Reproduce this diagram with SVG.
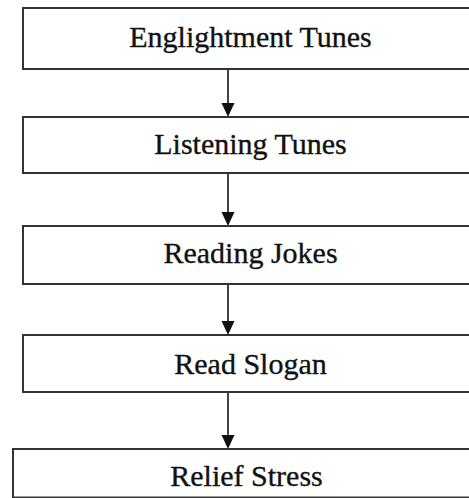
<svg xmlns="http://www.w3.org/2000/svg" width="469" height="498" viewBox="0 0 469 498">
<style>
.box{fill:#fff;stroke:#333;stroke-width:2}
.lbl{font-family:"Liberation Serif","Times New Roman",serif;font-size:30px;fill:#111;stroke:#111;stroke-width:0.35;text-anchor:middle}
.conn{stroke:#444;stroke-width:2;fill:none}
.head{fill:#111}
</style>
<rect width="469" height="498" fill="#fff"/>
<g id="connectors">
<line class="conn" x1="228" y1="69" x2="228" y2="104"/>
<polygon class="head" points="221.5,103 234.5,103 228,117"/>
<line class="conn" x1="228" y1="173" x2="228" y2="213"/>
<polygon class="head" points="221.5,212 234.5,212 228,226"/>
<line class="conn" x1="228" y1="284" x2="228" y2="322"/>
<polygon class="head" points="221.5,321 234.5,321 228,335"/>
<line class="conn" x1="228" y1="392" x2="228" y2="436"/>
<polygon class="head" points="221.5,435 234.5,435 228,449"/>
</g>
<g id="n1"><rect class="box" x="23" y="8" width="455" height="61"/><text class="lbl" x="250.5" y="47">Englightment Tunes</text></g>
<g id="n2"><rect class="box" x="23" y="117" width="455" height="56"/><text class="lbl" x="250.5" y="154">Listening Tunes</text></g>
<g id="n3"><rect class="box" x="23" y="226" width="455" height="58"/><text class="lbl" x="250.5" y="263">Reading Jokes</text></g>
<g id="n4"><rect class="box" x="23" y="335" width="455" height="57"/><text class="lbl" x="250.5" y="374">Read Slogan</text></g>
<g id="n5"><rect class="box" x="13" y="449" width="466" height="48.5"/><text class="lbl" x="246.5" y="486">Relief Stress</text></g>
</svg>
